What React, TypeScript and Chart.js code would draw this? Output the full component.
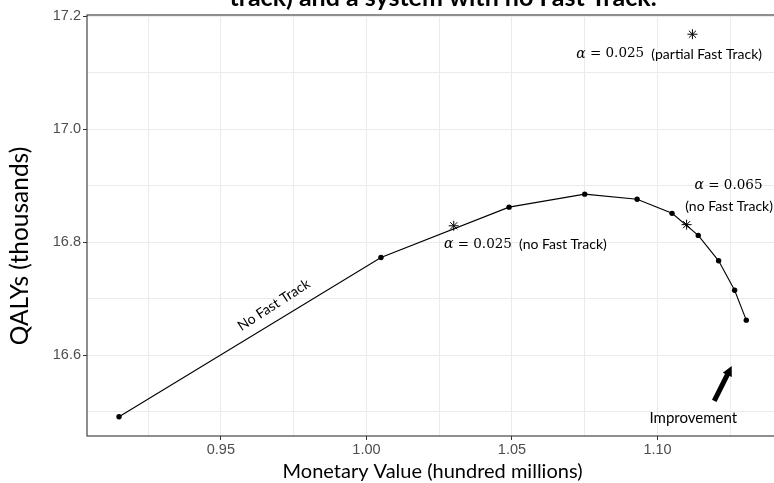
import React, { useEffect, useRef } from "react";
import { Chart, registerables } from "chart.js";

Chart.register(...registerables);

// Efficient frontier of the system without Fast Track
const frontierX = [0.915, 1.005, 1.049, 1.075, 1.093, 1.105, 1.114, 1.121, 1.1265, 1.1305];
const frontierY = [16.491, 16.773, 16.862, 16.885, 16.876, 16.851, 16.812, 16.767, 16.715, 16.662];

// Highlighted alpha settings (star markers)
const alphaX = [1.03, 1.11, 1.112];
const alphaY = [16.829, 16.831, 17.168];

// Axis ranges and ticks
const xRange = [0.904, 1.1414];
const yRange = [16.457, 17.202];
const xMajorTicks = [0.95, 1.0, 1.05, 1.1];
const xMinorTicks = [0.925, 0.975, 1.025, 1.075, 1.125];
const yMajorTicks = [16.6, 16.8, 17.0, 17.2];
const yMinorTicks = [16.5, 16.7, 16.9, 17.1];

// Text
const titleText = "track) and a system with no Fast Track.";
const xTitle = "Monetary Value (hundred millions)";
const yTitle = "QALYs (thousands)";

// Alpha annotations: anchor x, anchor y, alpha value, note
const alphaLabelX = [1.104, 1.0546];
const alphaLabelY = [17.133, 16.796];
const alphaLabelValue = ["0.025", "0.025"];
const alphaLabelNote = ["(partial Fast Track)", "(no Fast Track)"];

// Two-line annotation for alpha = 0.065
const stackedLabelX = [1.1244, 1.1246];
const stackedLabelY = [16.9, 16.864];
const stackedAlpha = "0.065";
const stackedNote = "(no Fast Track)";

// Curve label and improvement hint
const curveLabel = "No Fast Track";
const curveLabelPos = [0.9682, 16.689];
const improvementLabel = "Improvement";
const improvementPos = [1.1123, 16.4885];
const arrowFrom = [1.1195, 16.519];
const arrowTo = [1.1255, 16.581];

const TEXT_FONT = "Lato, 'Open Sans', sans-serif";
const MATH_FONT = "'DejaVu Serif', 'Liberation Serif', serif";

const near = (list: number[], v: number) => list.some((t) => Math.abs(t - v) < 1e-6);

function drawRich(
  ctx: CanvasRenderingContext2D,
  segments: { text: string; font: string }[],
  cx: number,
  cy: number
) {
  let total = 0;
  const widths = segments.map((s) => {
    ctx.font = s.font;
    const w = ctx.measureText(s.text).width;
    total += w;
    return w;
  });
  let x = cx - total / 2;
  ctx.textAlign = "left";
  ctx.textBaseline = "middle";
  segments.forEach((s, i) => {
    ctx.font = s.font;
    ctx.fillText(s.text, x, cy);
    x += widths[i];
  });
}

const alphaSegments = (value: string, note?: string) => {
  const segs = [
    { text: "\u03b1", font: `italic 14px ${MATH_FONT}` },
    { text: " = " + value, font: `13.5px ${MATH_FONT}` },
  ];
  if (note) segs.push({ text: "  " + note, font: `14px ${TEXT_FONT}` });
  return segs;
};

const overlay = {
  id: "overlay",
  afterDraw(chart: any) {
    const { ctx, chartArea: a, scales } = chart;
    const px = (v: number) => scales.x.getPixelForValue(v);
    const py = (v: number) => scales.y.getPixelForValue(v);
    ctx.save();

    // panel border
    ctx.strokeStyle = "#333333";
    ctx.lineWidth = 1.1;
    ctx.strokeRect(a.left, a.top, a.right - a.left, a.bottom - a.top);

    ctx.fillStyle = "#000000";

    // plot title (upper part lies above the page)
    ctx.font = `bold 25px ${TEXT_FONT}`;
    ctx.textAlign = "center";
    ctx.textBaseline = "alphabetic";
    ctx.fillText(titleText, 443, 6);

    // axis titles
    ctx.font = `20px ${TEXT_FONT}`;
    ctx.textBaseline = "middle";
    ctx.fillText(xTitle, (a.left + a.right) / 2, 472);
    ctx.save();
    ctx.font = `24.5px ${TEXT_FONT}`;
    ctx.translate(20, 246);
    ctx.rotate(-Math.PI / 2);
    ctx.fillText(yTitle, 0, 0);
    ctx.restore();

    // alpha annotations
    alphaLabelX.forEach((x, i) => {
      drawRich(ctx, alphaSegments(alphaLabelValue[i], alphaLabelNote[i]), px(x), py(alphaLabelY[i]));
    });
    drawRich(ctx, alphaSegments(stackedAlpha), px(stackedLabelX[0]), py(stackedLabelY[0]));
    drawRich(ctx, [{ text: stackedNote, font: `14px ${TEXT_FONT}` }], px(stackedLabelX[1]), py(stackedLabelY[1]));

    // rotated curve label
    ctx.save();
    ctx.translate(px(curveLabelPos[0]), py(curveLabelPos[1]));
    ctx.rotate((-33 * Math.PI) / 180);
    ctx.font = `14px ${TEXT_FONT}`;
    ctx.textAlign = "center";
    ctx.textBaseline = "middle";
    ctx.fillText(curveLabel, 0, 0);
    ctx.restore();

    // improvement label
    ctx.font = `15px ${TEXT_FONT}`;
    ctx.textAlign = "center";
    ctx.textBaseline = "middle";
    ctx.fillText(improvementLabel, px(improvementPos[0]), py(improvementPos[1]));

    // improvement arrow
    const x0 = px(arrowFrom[0]);
    const y0 = py(arrowFrom[1]);
    const x1 = px(arrowTo[0]);
    const y1 = py(arrowTo[1]);
    const ang = Math.atan2(y1 - y0, x1 - x0);
    const headLen = 10;
    const headHalf = 5;
    const bx = x1 - headLen * Math.cos(ang);
    const by = y1 - headLen * Math.sin(ang);
    ctx.strokeStyle = "#000000";
    ctx.lineWidth = 5;
    ctx.lineCap = "butt";
    ctx.beginPath();
    ctx.moveTo(x0, y0);
    ctx.lineTo(bx + 2 * Math.cos(ang), by + 2 * Math.sin(ang));
    ctx.stroke();
    ctx.beginPath();
    ctx.moveTo(x1, y1);
    ctx.lineTo(bx + headHalf * Math.sin(ang), by - headHalf * Math.cos(ang));
    ctx.lineTo(bx - headHalf * Math.sin(ang), by + headHalf * Math.cos(ang));
    ctx.closePath();
    ctx.fill();

    ctx.restore();
  },
};

const CANVAS_W = 800;
const CANVAS_H = 483;

export default function App() {
  const ref = useRef<HTMLCanvasElement | null>(null);

  useEffect(() => {
    if (!ref.current) return;
    const frontier = frontierX.map((x, i) => ({ x, y: frontierY[i] }));
    const alphas = alphaX.map((x, i) => ({ x, y: alphaY[i] }));

    const tickFont = { family: "'Liberation Sans', Arial, sans-serif", size: 14.5 };

    const chart = new Chart(ref.current, {
      type: "scatter",
      data: {
        datasets: [
          {
            data: frontier,
            showLine: true,
            borderColor: "#000000",
            borderWidth: 1.1,
            pointRadius: 2.7,
            pointBackgroundColor: "#000000",
            pointBorderWidth: 0,
          },
          {
            data: alphas,
            showLine: false,
            pointStyle: "star",
            pointRadius: 5,
            borderColor: "#000000",
            borderWidth: 1,
          },
        ],
      },
      options: {
        responsive: false,
        animation: false,
        layout: { padding: { top: 15, right: CANVAS_W - 778, left: 0, bottom: 0 } },
        plugins: { legend: { display: false }, tooltip: { enabled: false } },
        scales: {
          x: {
            type: "linear",
            min: xRange[0],
            max: xRange[1],
            afterBuildTicks: (s: any) => {
              s.ticks = [...xMinorTicks, ...xMajorTicks].sort((p, q) => p - q).map((value) => ({ value }));
            },
            afterFit: (s: any) => {
              s.height = CANVAS_H - 436;
            },
            ticks: {
              autoSkip: false,
              maxRotation: 0,
              color: "#4d4d4d",
              font: tickFont,
              padding: 1,
              callback: (v: any) => (near(xMajorTicks, Number(v)) ? Number(v).toFixed(2) : ""),
            },
            grid: {
              color: "#ebebeb",
              lineWidth: 1,
              drawTicks: true,
              tickLength: 4,
              tickColor: (c: any) => (c.tick && near(xMajorTicks, c.tick.value) ? "#333333" : "rgba(0,0,0,0)"),
            },
            border: { display: false },
          },
          y: {
            type: "linear",
            min: yRange[0],
            max: yRange[1],
            afterBuildTicks: (s: any) => {
              s.ticks = [...yMinorTicks, ...yMajorTicks].sort((p, q) => p - q).map((value) => ({ value }));
            },
            afterFit: (s: any) => {
              s.width = 87;
            },
            ticks: {
              autoSkip: false,
              color: "#4d4d4d",
              font: tickFont,
              padding: 2,
              callback: (v: any) => (near(yMajorTicks, Number(v)) ? Number(v).toFixed(1) : ""),
            },
            grid: {
              color: "#ebebeb",
              lineWidth: 1,
              drawTicks: true,
              tickLength: 4,
              tickColor: (c: any) => (c.tick && near(yMajorTicks, c.tick.value) ? "#333333" : "rgba(0,0,0,0)"),
            },
            border: { display: false },
          },
        },
      },
      plugins: [overlay],
    });

    return () => chart.destroy();
  }, []);

  return (
    <div
      style={{
        position: "fixed",
        left: 0,
        top: 0,
        width: 774,
        height: 483,
        overflow: "hidden",
        background: "#ffffff",
      }}
    >
      <canvas ref={ref} width={CANVAS_W} height={CANVAS_H} style={{ width: CANVAS_W, height: CANVAS_H }} />
    </div>
  );
}
